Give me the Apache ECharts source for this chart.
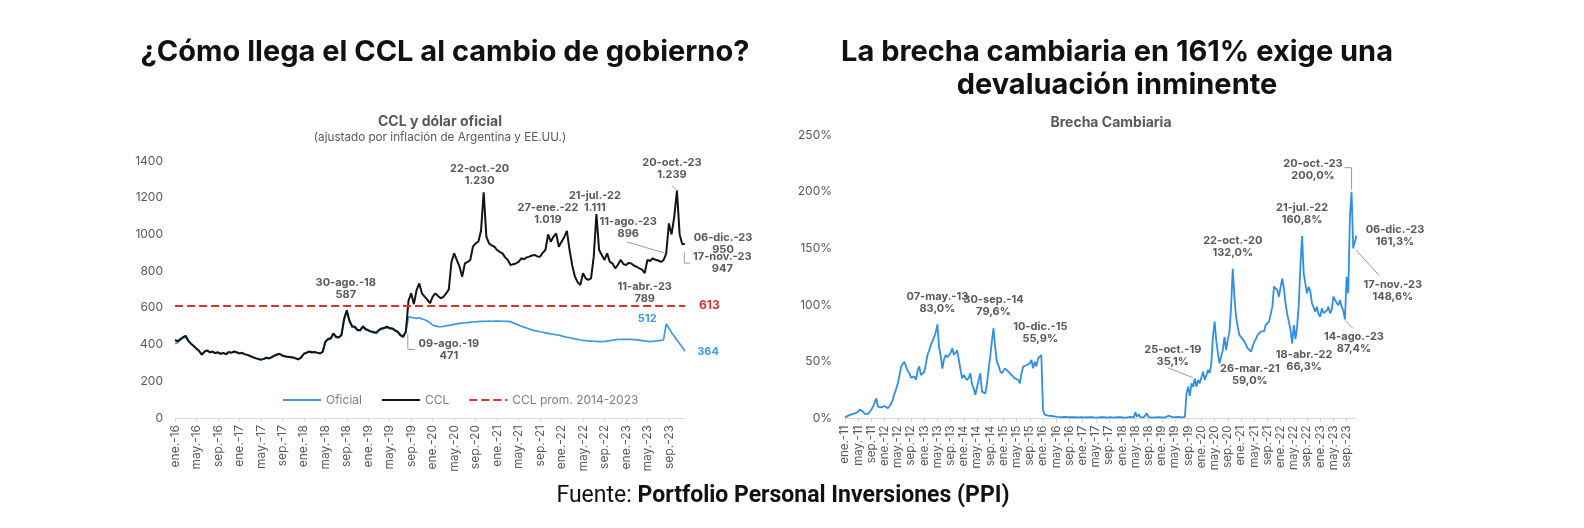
<!DOCTYPE html>
<html>
<head>
<meta charset="utf-8">
<script src="https://cdn.jsdelivr.net/npm/echarts@6/dist/echarts.min.js"></script>
<style>
html,body{margin:0;padding:0;background:#ffffff;}
#c{width:1584px;height:528px;}
</style>
</head>
<body>
<div id="c"></div>
<script>
// ---------- Etiquetas ----------
const MESES = ['ene.','feb.','mar.','abr.','may.','jun.','jul.','ago.','sep.','oct.','nov.','dic.'];

// ---------- CCL (ajustado por inflación), quincenal: día 1 y 16 de cada mes ----------
const ccl2016 = [425,418,430,440,448,420,405,392,378,365,345,362,368,358,362,354,358,350,355,348,360,356,362,358];
const ccl2017 = [352,355,348,344,338,332,326,322,318,322,328,325,332,340,346,350,340,336,334,332,330,325,320,330];
const ccl2018 = [350,356,362,358,360,356,352,360,416,430,434,461,443,440,452,540,587,530,500,497,480,479,500,485];
const ccl2019 = [479,472,468,465,480,488,492,497,490,488,478,470,452,443,471,640,679,620,697,733,679,661,645,625];
const ccl2020 = [661,679,665,652,660,679,700,850,897,860,824,770,842,850,861,933,951,960,1020,1230,988,951,940,933];
const ccl2021 = [915,905,897,875,861,833,838,842,850,870,865,875,879,885,888,880,879,900,915,1000,960,988,1006,933];
const ccl2022 = [960,985,1019,915,830,770,740,724,788,761,752,760,879,1111,915,888,861,897,850,842,815,835,861,840];
const ccl2023 = [833,845,842,830,824,815,808,789,861,855,870,862,858,851,860,896,1060,1000,1097,1239,1000,947,950];

// ---------- Dólar oficial (ajustado) ----------
const of2016 = [405,410,425,435,440,418,402,390,375,363,343,360,366,356,360,352,356,348,353,346,358,354,360,356];
const of2017 = [350,353,346,342,336,330,324,320,316,320,326,323,330,338,344,348,338,334,332,330,328,323,318,328];
const of2018 = [348,354,360,356,358,354,350,358,412,426,430,455,438,436,448,532,578,525,495,492,476,475,495,480];
const of2019 = [475,468,464,461,476,484,488,492,486,484,474,466,448,440,468,552,548,545,543,546,540,535,528,518];
const of2020 = [507,502,498,497,499,502,505,507,510,513,515,517,519,520,522,523,524,525,526,526,527,528,527,528];
const of2021 = [528,528,527,527,526,525,518,512,506,500,495,490,485,480,476,473,470,467,464,461,458,456,453,451];
const of2022 = [447,443,440,437,434,431,428,425,423,421,420,419,418,417,416,416,417,419,421,424,426,428,429,428];
const of2023 = [428,429,428,427,426,424,422,420,418,416,417,419,421,423,425,512,490,465,445,425,405,385,364];

const CCL_PROMEDIO = 613;

// ---------- Brecha cambiaria (%) ----------
const b2011 = [1,1.5,2.5,3.5,3.7,4,4.5,4.3,6,8,6.5,6,4,3,4,5,8,10.4,12,17.8,10.4,11,9.8,10.5];
const b2012 = [11,10,9,11,13.4,17,22,26,31,38,45.7,48,50,45.7,42,39.8,36,35.4,37,34,42,46,38.3,40];
const b2013 = [41,48,56,60,64.8,68,72,76,83,63,55,44,52,56,54,53,58,62,56,57,60,51.6,43,35.4];
const b2014 = [38.3,36,34,36,39.8,30,26.6,21,21,34,39.8,23.7,22.2,22,30,43,54.5,68,79.6,63.3,50,47,42,39.8];
const b2015 = [42,44.2,43,41.3,40,38.3,37,35.4,36,34,31,40,45.7,46,47,46,48.6,51.6,44.2,50,46,53,52,55.9];
const b2016 = [7.5,3.5,3,2.5,2,2.2,1.5,1.8,1.2,1.5,1,1.3,1.1,1.4,1,1.2,0.9,1.1,1,1.3,1.2,1,1.4,1.1];
const b2017 = [1.2,1,1.4,1.1,0.9,1.3,1.2,1,1.1,0.8,1,1.2,0.9,1.1,1,0.7,0.9,1.2,1,0.8,1,1.1,0.9,1.3];
const b2018 = [1,0.8,1.2,0.9,1.1,1.4,1,0.8,5.5,1.5,3.8,1.2,0.9,1,1.5,4.5,1.2,1,0.8,1.3,1,0.9,1.2,2];
const b2019 = [1,1.5,0.9,1.2,2.5,1,1.3,0.9,1.2,1,1.4,1.1,1,1.3,1.5,22,28,20,31,28,35.1,28,34,31];
const b2020 = [31,41.3,34,38,42.8,40,48.6,72,85.4,69,57.5,48.6,55,60.4,72,60.4,70,76.6,98.6,132,107.4,89.8,81,73.6];
const b2021 = [72,70,68,66.3,62,61,59,63.3,67.7,70,73.6,75,76.6,78,77,82.5,84,85.4,92,98.6,116.3,117.7,113.3,107.4];
const b2022 = [109,123.6,115,101.5,92,85.4,78,66.3,82.4,70,81,100,134,160.8,128,119,110.4,116.2,112,101.5,98,94.2,98.6,92];
const b2023 = [89.8,97.1,93,91.3,95,98.6,92.7,96,107.4,104.5,102,100,104.5,98.6,95,87.4,125,110.4,178,200,150,148.6,161.3];

// ---------- Anotaciones: [quincena, valor, texto] ----------
const notasCCL = [
  ['2018-09-01', 587, '30-ago.-18\n587'],
  ['2019-08-01', 471, '09-ago.-19\n471'],
  ['2020-10-16', 1230, '22-oct.-20\n1.230'],
  ['2022-02-01', 1019, '27-ene.-22\n1.019'],
  ['2022-07-16', 1111, '21-jul.-22\n1.111'],
  ['2023-08-16', 896, '11-ago.-23\n896'],
  ['2023-10-16', 1239, '20-oct.-23\n1.239'],
  ['2023-12-01', 950, '06-dic.-23\n950'],
  ['2023-11-16', 947, '17-nov.-23\n947'],
  ['2023-04-16', 789, '11-abr.-23\n789']
];
const notasOficial = [
  ['2023-08-16', 512, '512'],
  ['2023-12-01', 364, '364']
];
const notasBrecha = [
  ['2013-05-01', 83.0, '07-may.-13\n83,0%'],
  ['2014-10-01', 79.6, '30-sep.-14\n79,6%'],
  ['2015-12-16', 55.9, '10-dic.-15\n55,9%'],
  ['2019-11-01', 35.1, '25-oct.-19\n35,1%'],
  ['2020-10-16', 132.0, '22-oct.-20\n132,0%'],
  ['2021-04-01', 59.0, '26-mar.-21\n59,0%'],
  ['2022-04-16', 66.3, '18-abr.-22\n66,3%'],
  ['2022-07-16', 160.8, '21-jul.-22\n160,8%'],
  ['2023-08-16', 87.4, '14-ago.-23\n87,4%'],
  ['2023-10-16', 200.0, '20-oct.-23\n200,0%'],
  ['2023-12-01', 161.3, '06-dic.-23\n161,3%'],
  ['2023-11-16', 148.6, '17-nov.-23\n148,6%']
];

// ---------- Layout (pixel offsets of labels relative to their point) ----------
const posCCL = [[-1,-22],[43,18],[-4,-18],[-19,-17],[-1.5,-12.5],[-38,-26],[-5,-21.5],[38,0],[40,19],[0,19.5]];
const posOficial = [[-19,-5],[23,1]];
const posBrecha = [[0,-22],[0,-23],[-1,-22.5],[-22,-23],[0,-22],[-1,23],[12,17],[0,-22],[9,23.5],[-38.5,-22.5],[38.5,0],[38,40.5]];
// leader lines: [serie, quincena, valor, puntos relativos]
const guias = [
  [1, '2019-08-01', 471, [[2,2],[2,18],[9,18]]],
  [1, '2023-08-16', 896, [[-39,-11.5],[-1.5,-0.5]]],
  [1, '2023-10-16', 1239, [[-5,-5],[0,0]]],
  [1, '2023-11-16', 947, [[2,8],[2,19],[8,19]]],
  [3, '2019-11-01', 35.1, [[-27,-11],[-2,-1]]],
  [3, '2023-08-16', 87.4, [[0,1],[8,9]]],
  [3, '2023-10-16', 200.0, [[-7,-24],[0,-24],[0,-2]]],
  [3, '2023-11-16', 148.6, [[1,0],[24,25]]]
];

function quincenas(desde, hasta) {
  const out = [];
  for (let a = desde; a <= hasta; a++) {
    for (let m = 1; m <= 12; m++) {
      for (const d of ['01', '16']) {
        if (a === hasta && m === 12 && d === '16') continue;
        out.push(a + '-' + String(m).padStart(2, '0') + '-' + d);
      }
    }
  }
  return out;
}

const catIzq = quincenas(2016, 2023);
const catDer = quincenas(2011, 2023);
const ccl = [].concat(ccl2016, ccl2017, ccl2018, ccl2019, ccl2020, ccl2021, ccl2022, ccl2023);
const oficial = [].concat(of2016, of2017, of2018, of2019, of2020, of2021, of2022, of2023);
const brecha = [].concat(b2011, b2012, b2013, b2014, b2015, b2016, b2017, b2018, b2019, b2020, b2021, b2022, b2023);

const FONT = 'Inter, "Noto Sans", sans-serif';
const GRIS = '#595959';
const AZUL_OF = '#3d9ae0';
const AZUL_BR = '#2f8fe6';
const NEGRO = '#141414';
const ROJO = '#e0312b';

const etiquetaEje = v => { const p = v.split('-'); return MESES[+p[1] - 1] + '-' + p[0].slice(2); };
const cadaCuatroMeses = i => i % 8 === 0;

function ejeX(grid, data, fs) {
  return {
    type: 'category', gridIndex: grid, data: data, boundaryGap: false,
    axisLine: { show: true, lineStyle: { color: '#d9d9d9', width: 1 } },
    axisTick: { show: true, interval: cadaCuatroMeses, length: 4, lineStyle: { color: '#d9d9d9' } },
    axisLabel: { interval: cadaCuatroMeses, rotate: 90, formatter: etiquetaEje, color: GRIS, fontSize: fs, fontFamily: FONT, margin: 7 },
    splitLine: { show: false }
  };
}

function marcas(notas, pos, color) {
  return {
    symbol: 'circle', symbolSize: 1, silent: true,
    itemStyle: { color: 'rgba(0,0,0,0)' },
    label: { show: true, position: 'inside', color: color, fontWeight: 'bold', fontSize: 11, lineHeight: 12, fontFamily: FONT, align: 'center', verticalAlign: 'middle' },
    data: notas.map((n, i) => ({ coord: [n[0], n[1]], value: n[1], label: { formatter: n[2], offset: pos[i] } }))
  };
}

const titulos = [
  { type: 'text', x: 445, y: 52, silent: true, style: { text: '¿Cómo llega el CCL al cambio de gobierno?', font: 'bold 29px Inter', fill: '#111', align: 'center', verticalAlign: 'middle' } },
  { type: 'text', x: 1117, y: 69, silent: true, style: { text: 'La brecha cambiaria en 161% exige una\ndevaluación inminente', font: 'bold 29px Inter', lineHeight: 33.5, fill: '#111', align: 'center', verticalAlign: 'middle' } },
  { type: 'text', x: 440, y: 122, silent: true, style: { text: 'CCL y dólar oficial', font: 'bold 14px Inter', fill: GRIS, align: 'center', verticalAlign: 'middle' } },
  { type: 'text', x: 440, y: 137, silent: true, style: { text: '(ajustado por inflación de Argentina y EE.UU.)', font: '11.7px Inter', fill: GRIS, align: 'center', verticalAlign: 'middle' } },
  { type: 'text', x: 1111, y: 123, silent: true, style: { text: 'Brecha Cambiaria', font: 'bold 14px Inter', fill: GRIS, align: 'center', verticalAlign: 'middle' } },
  { type: 'text', x: 783, y: 496, silent: true, style: {
      text: '{a|Fuente: }{b|Portfolio Personal Inversiones (PPI)}', align: 'center', verticalAlign: 'middle',
      rich: { a: { font: '23px Roboto', fill: '#111' }, b: { font: 'bold 23px Roboto', fill: '#111' } } } }
];

const chart = echarts.init(document.getElementById('c'), null, { renderer: 'canvas' });

const option = {
  animation: false,
  backgroundColor: '#ffffff',
  textStyle: { fontFamily: FONT },
  grid: [
    { left: 175, top: 161, width: 510, height: 257 },
    { left: 845, top: 135, width: 511.5, height: 283.5 }
  ],
  legend: {
    data: ['Oficial', 'CCL', 'CCL prom. 2014-2023'],
    left: 277, top: 389, itemWidth: 38, itemHeight: 12, itemGap: 19,
    itemStyle: { opacity: 0, borderWidth: 0 },
    textStyle: { color: '#7f7f7f', fontSize: 12, fontFamily: FONT }
  },
  xAxis: [ejeX(0, catIzq, 12), ejeX(1, catDer, 11.5)],
  yAxis: [
    { type: 'value', gridIndex: 0, min: 0, max: 1400, interval: 200,
      axisLine: { show: false }, axisTick: { show: false }, splitLine: { show: false },
      axisLabel: { color: GRIS, fontSize: 12, fontFamily: FONT, margin: 12, formatter: v => String(v) } },
    { type: 'value', gridIndex: 1, min: 0, max: 250, interval: 50,
      axisLine: { show: false }, axisTick: { show: false }, splitLine: { show: false },
      axisLabel: { color: GRIS, fontSize: 12, fontFamily: FONT, margin: 13, formatter: v => v + '%' } }
  ],
  series: [
    { name: 'Oficial', type: 'line', xAxisIndex: 0, yAxisIndex: 0, data: oficial, symbol: 'none',
      lineStyle: { color: AZUL_OF, width: 1.7 }, itemStyle: { color: AZUL_OF }, z: 2,
      markPoint: marcas(notasOficial, posOficial, AZUL_OF) },
    { name: 'CCL', type: 'line', xAxisIndex: 0, yAxisIndex: 0, data: ccl, symbol: 'none',
      lineStyle: { color: NEGRO, width: 2 }, itemStyle: { color: NEGRO }, z: 3,
      markPoint: marcas(notasCCL, posCCL, GRIS) },
    { name: 'CCL prom. 2014-2023', type: 'line', xAxisIndex: 0, yAxisIndex: 0, data: [], symbol: 'none',
      lineStyle: { color: ROJO, width: 1.8, type: [8, 4] }, itemStyle: { color: ROJO }, z: 4,
      markLine: { silent: true, symbol: 'none', animation: false,
        lineStyle: { color: ROJO, width: 1.8, type: [8, 4] },
        label: { show: true, position: 'end', formatter: String(CCL_PROMEDIO), color: ROJO, fontWeight: 'bold', fontSize: 12, fontFamily: FONT, distance: 14 },
        data: [{ yAxis: CCL_PROMEDIO }] } },
    { name: 'Brecha', type: 'line', xAxisIndex: 1, yAxisIndex: 1, data: brecha, symbol: 'none',
      lineStyle: { color: AZUL_BR, width: 1.8 }, itemStyle: { color: AZUL_BR }, z: 3,
      markPoint: marcas(notasBrecha, posBrecha, GRIS) }
  ],
  graphic: { elements: titulos }
};

chart.setOption(option);

const lineas = guias.map(g => {
  const p = chart.convertToPixel({ seriesIndex: g[0] }, [g[1], g[2]]);
  return { type: 'polyline', silent: true, z: 10,
    shape: { points: g[3].map(d => [p[0] + d[0], p[1] + d[1]]) },
    style: { stroke: '#9a9a9a', lineWidth: 1, fill: null } };
});
chart.setOption({ graphic: { elements: titulos.concat(lineas) } });
</script>
</body>
</html>
